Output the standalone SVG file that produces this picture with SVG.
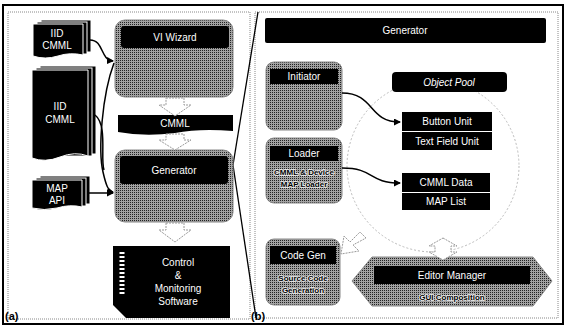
<svg xmlns="http://www.w3.org/2000/svg" width="567" height="327" viewBox="0 0 567 327">
<defs>
<pattern id="dither" width="2" height="2" patternUnits="userSpaceOnUse">
<rect width="2" height="2" fill="#a2a2a2"/>
<rect x="0" y="0" width="1" height="1" fill="#222"/>
</pattern>
<marker id="ah" markerWidth="7" markerHeight="7" refX="6" refY="3.5" orient="auto" markerUnits="userSpaceOnUse">
<path d="M0,0 L7,3.5 L0,7 z" fill="#000"/>
</marker>
<style>
.frame{fill:none;stroke:#000;stroke-width:2}
.panel{fill:#fff;stroke:#888;stroke-width:1;stroke-dasharray:1 1}
.grey{fill:url(#dither);stroke:#888;stroke-width:1}
.blk{fill:#000}
.page{fill:#000;stroke:#fff;stroke-width:1}
.hollow{fill:#fff;stroke:#999;stroke-width:1;stroke-dasharray:2 1}
.wt{fill:#fff;font-family:"Liberation Sans",Arial,sans-serif;font-size:10px;text-anchor:middle}
.bt{fill:#000;stroke:#eee;stroke-width:1.6;paint-order:stroke;font-family:"Liberation Sans",Arial,sans-serif;font-size:8px;font-weight:bold;text-anchor:middle}
.lab{fill:#000;font-family:"Liberation Sans",Arial,sans-serif;font-size:11px;font-weight:bold}
.conn{fill:none;stroke:#000;stroke-width:1.5}
.zoom{fill:none;stroke:#000;stroke-width:1.3}
</style>
</defs>
<rect width="567" height="327" fill="#fff"/>
<rect x="3" y="5" width="560" height="319" class="frame"/>
<rect x="8" y="12" width="242" height="307" class="panel"/>
<rect x="255" y="12" width="303" height="306" class="panel"/>
<g id="zoomlines">
<line x1="233" y1="165" x2="258" y2="12" class="zoom"/>
<line x1="233" y1="165" x2="256" y2="318" class="zoom"/>
</g>

<!-- Panel (a) -->
<g id="iid-top">
<rect x="41" y="20" width="50" height="32" class="page"/>
<rect x="37" y="22" width="50" height="32" class="page"/>
<path d="M33,24 H83 V55 Q70,52 58,56 Q45,60 33,56 Z" class="page"/>
<text x="57" y="37" class="wt">IID</text>
<text x="57" y="49" class="wt">CMML</text>
</g>
<g id="iid-big">
<rect x="40" y="66" width="56" height="88" class="page"/>
<rect x="36" y="68" width="56" height="88" class="page"/>
<path d="M32,70 H88 V156 Q75,151 60,157 Q45,163 32,158 Z" class="page"/>
<text x="60" y="110" class="wt">IID</text>
<text x="60" y="123" class="wt">CMML</text>
</g>
<g id="map-api">
<rect x="40" y="176" width="50" height="28" class="page"/>
<rect x="36" y="178" width="50" height="28" class="page"/>
<path d="M32,180 H82 V207 Q70,204 57,208 Q44,211 32,208 Z" class="page"/>
<text x="57" y="192" class="wt">MAP</text>
<text x="57" y="204" class="wt">API</text>
</g>
<g id="vi-wizard">
<rect x="115" y="20" width="118" height="77" rx="10" class="grey"/>
<rect x="121" y="26" width="108" height="22" rx="3" class="blk"/>
<text x="175" y="41" class="wt">VI Wizard</text>
</g>
<g id="cmml">
<path d="M118,115 H233 V131 Q200,128 175,133 Q145,137 118,132 Z" class="blk"/>
<text x="175" y="127" class="wt">CMML</text>
</g>
<g id="generator-a">
<rect x="115" y="150" width="118" height="72" rx="10" class="grey"/>
<rect x="120" y="156" width="108" height="28" rx="3" class="blk"/>
<text x="174" y="174" class="wt">Generator</text>
</g>
<g id="control-sw">
<path d="M113,246 H230 V318 H126 L113,305 Z" class="blk"/>
<line x1="122" y1="252" x2="122" y2="296" stroke="#fff" stroke-width="5" stroke-dasharray="2 2"/>
<text x="178" y="266" class="wt">Control</text>
<text x="178" y="279" class="wt">&amp;</text>
<text x="178" y="292" class="wt">Monitoring</text>
<text x="178" y="305" class="wt">Software</text>
</g>
<g id="arrows-a">
<path d="M166,98 H184 V105 H191 L175,116 L159,105 H166 Z" class="hollow"/>
<path d="M166,134 H184 V140 H191 L175,150 L159,140 H166 Z" class="hollow"/>
<path d="M166,223 H184 V230 H191 L175,242 L159,230 H166 Z" class="hollow"/>
</g>
<g id="connectors-a">
<path d="M90,40 C104,40 100,60 113,61" class="conn" marker-end="url(#ah)"/>
<path d="M114,63 C102,95 98,150 103,172 C106,185 108,191 113,192" class="conn" marker-end="url(#ah)"/>
<path d="M95,115 C108,125 100,160 104,170" class="conn"/>
<path d="M88,193 L113,193" class="conn" marker-end="url(#ah)"/>
</g>
<text x="5" y="320" class="lab">(a)</text>

<!-- Panel (b) -->
<g id="generator-b">
<rect x="265" y="18" width="281" height="25" rx="2" class="blk"/>
<text x="405" y="34" class="wt">Generator</text>
</g>
<g id="object-pool">
<circle cx="433" cy="166" r="86" fill="none" stroke="#bbb" stroke-width="1" stroke-dasharray="2 2"/>
<rect x="392" y="72" width="115" height="20" rx="4" class="blk"/>
<text x="449" y="86" class="wt" font-style="italic">Object Pool</text>
</g>
<g id="button-unit">
<rect x="402" y="112" width="90" height="19" class="blk"/>
<text x="447" y="125" class="wt">Button Unit</text>
</g>
<g id="text-field-unit">
<rect x="402" y="132" width="90" height="18" class="blk"/>
<text x="447" y="145" class="wt">Text Field Unit</text>
</g>
<g id="cmml-data">
<rect x="402" y="173" width="88" height="19" class="blk"/>
<text x="446" y="186" class="wt">CMML Data</text>
</g>
<g id="map-list">
<rect x="402" y="193" width="88" height="17" class="blk"/>
<text x="446" y="205" class="wt">MAP List</text>
</g>
<g id="initiator">
<rect x="266" y="62" width="76" height="68" rx="8" class="grey"/>
<rect x="270" y="69" width="68" height="15" class="blk"/>
<text x="304" y="80" class="wt">Initiator</text>
</g>
<g id="loader">
<rect x="266" y="138" width="76" height="65" rx="8" class="grey"/>
<rect x="270" y="146" width="68" height="15" class="blk"/>
<text x="304" y="157" class="wt">Loader</text>
<text x="304" y="175" class="bt">CMML &amp; Device</text>
<text x="304" y="187" class="bt">MAP Loader</text>
</g>
<g id="code-gen">
<rect x="266" y="239" width="74" height="66" rx="8" class="grey"/>
<rect x="270" y="246" width="66" height="18" class="blk"/>
<text x="303" y="259" class="wt">Code Gen</text>
<text x="303" y="281" class="bt">Source Code</text>
<text x="303" y="293" class="bt">Generation</text>
</g>
<g id="editor-manager">
<path d="M372,257 H533 L552,281 L533,306 H372 L352,281 Z" class="grey"/>
<rect x="374" y="266" width="156" height="18" class="blk"/>
<text x="452" y="279" class="wt">Editor Manager</text>
<text x="452" y="300" class="bt">GUI Composition</text>
</g>
<g id="arrows-b">
<path d="M366,238 L360,232 L350,242 L344,236 L341,254 L359,251 L353,245 Z" class="hollow"/>
<path d="M443,238 L457,246 L451,246 L451,252 L457,252 L443,260 L429,252 L435,252 L435,246 L429,246 Z" class="hollow"/>
</g>
<g id="connectors-b">
<path d="M342,93 C375,93 368,122 400,122" class="conn" marker-end="url(#ah)"/>
<path d="M342,168 C375,168 368,183 400,183" class="conn" marker-end="url(#ah)"/>
</g>
<text x="251" y="320" class="lab">(b)</text>
</svg>
